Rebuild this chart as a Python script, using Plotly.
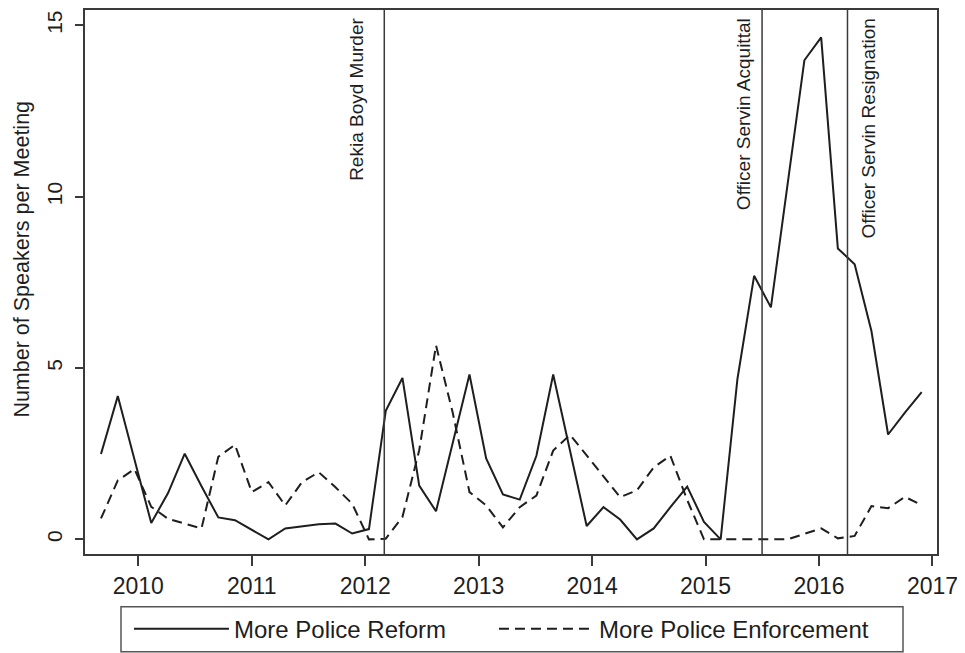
import plotly.graph_objects as go

# ---- data ----
dates = [2009.671, 2009.819, 2009.966, 2010.114, 2010.262, 2010.409, 2010.557, 2010.705,
         2010.852, 2011.000, 2011.147, 2011.295, 2011.443, 2011.590, 2011.738, 2011.885,
         2012.033, 2012.181, 2012.328, 2012.476, 2012.624, 2012.771, 2012.919, 2013.066,
         2013.214, 2013.362, 2013.509, 2013.657, 2013.805, 2013.952, 2014.100, 2014.247,
         2014.395, 2014.543, 2014.690, 2014.838, 2014.986, 2015.133, 2015.281, 2015.428,
         2015.576, 2015.724, 2015.871, 2016.019, 2016.166, 2016.314, 2016.462, 2016.609,
         2016.757, 2016.905]

reform = [2.49, 4.18, 2.33, 0.48, 1.35, 2.50, 1.55, 0.64, 0.56, 0.28,
          0.00, 0.32, 0.38, 0.44, 0.46, 0.17, 0.30, 3.75, 4.71, 1.57,
          0.82, 2.80, 4.81, 2.36, 1.31, 1.16, 2.44, 4.81, 2.60, 0.39,
          0.94, 0.58, 0.00, 0.32, 0.94, 1.54, 0.51, 0.00, 4.68, 7.69,
          6.77, 10.40, 13.98, 14.65, 8.49, 8.03, 6.08, 3.06, 3.70, 4.30]

enforcement = [0.61, 1.72, 2.05, 0.95, 0.60, 0.45, 0.32, 2.41, 2.76, 1.38,
               1.67, 0.99, 1.67, 1.96, 1.52, 1.04, 0.00, 0.02, 0.65, 2.60,
               5.66, 3.70, 1.38, 0.99, 0.35, 0.94, 1.28, 2.59, 3.05, 2.45,
               1.85, 1.23, 1.43, 2.10, 2.44, 1.15, 0.00, 0.00, 0.00, 0.00,
               0.00, 0.00, 0.16, 0.32, 0.03, 0.10, 0.97, 0.91, 1.24, 1.00]

series_names = ["More Police Reform", "More Police Enforcement"]

event_dates = [2012.168, 2015.498, 2016.251]
event_labels = ["Rekia Boyd Murder", "Officer Servin Acquittal", "Officer Servin Resignation"]

x_ticks = [2010, 2011, 2012, 2013, 2014, 2015, 2016, 2017]
y_ticks = [0, 5, 10, 15]
y_title = "Number of Speakers per Meeting"

# ---- styling ----
FONT = "Liberation Sans, Arial, Helvetica, sans-serif"
INK = "#1e1e1e"
FRAME = "#3a3a3a"
label_shifts = [-28, -19, 21]

fig = go.Figure()
fig.add_trace(go.Scatter(x=dates, y=reform, mode="lines", name=series_names[0],
                         line=dict(color=INK, width=2), legend="legend"))
fig.add_trace(go.Scatter(x=dates, y=enforcement, mode="lines", name=series_names[1],
                         line=dict(color=INK, width=2, dash="10px,6px"), legend="legend2"))

for d, lab, sh in zip(event_dates, event_labels, label_shifts):
    fig.add_shape(type="line", xref="x", yref="paper", x0=d, x1=d, y0=0, y1=1,
                  line=dict(color=FRAME, width=1.5), layer="above")
    fig.add_annotation(x=d, y=15.27, xref="x", yref="y", text=lab, textangle=-90,
                       showarrow=False, xanchor="center", yanchor="top", xshift=sh,
                       font=dict(family=FONT, size=19, color=INK))

# y-axis title (placed like the original, slightly above the axis centre)
fig.add_annotation(x=-0.0739, y=0.5412, xref="paper", yref="paper", text=y_title,
                   textangle=-90, showarrow=False, xanchor="center", yanchor="middle",
                   font=dict(family=FONT, size=21.5, color=INK))

# legend frame
fig.add_shape(type="rect", xref="paper", yref="paper", x0=0.04225, x1=0.9601,
              y0=-0.1795, y1=-0.0971, line=dict(color="#555555", width=1.5),
              fillcolor="rgba(0,0,0,0)")

legend_common = dict(orientation="h", y=-0.1383, xanchor="left", yanchor="middle",
                     borderwidth=0, bgcolor="rgba(0,0,0,0)",
                     font=dict(family=FONT, size=24, color=INK), itemwidth=95)

fig.update_layout(
    width=957, height=645,
    margin=dict(l=77, r=28, t=0, b=99),
    paper_bgcolor="white", plot_bgcolor="white",
    font=dict(family=FONT, color=INK),
    showlegend=True,
    legend=dict(x=0.0516, **legend_common),
    legend2=dict(x=0.4800, **legend_common),
)

fig.update_xaxes(range=[2009.53, 2017.04], tickvals=x_ticks, ticktext=[str(t) for t in x_ticks],
                 showgrid=False, zeroline=False, showline=True, mirror=True,
                 linecolor=FRAME, linewidth=2, ticks="outside", ticklen=10, tickwidth=1.5,
                 tickcolor=FRAME, tickfont=dict(family=FONT, size=23, color=INK))
fig.update_yaxes(range=[-0.427, 15.447], tickvals=y_ticks, showgrid=False, zeroline=False,
                 showline=True, mirror=True, linecolor=FRAME, linewidth=2,
                 ticks="outside", ticklen=8, tickwidth=1.5, tickcolor=FRAME, tickangle=-90,
                 ticklabelstandoff=5,
                 tickfont=dict(family=FONT, size=21, color=INK))

fig.write_html("out.html")
